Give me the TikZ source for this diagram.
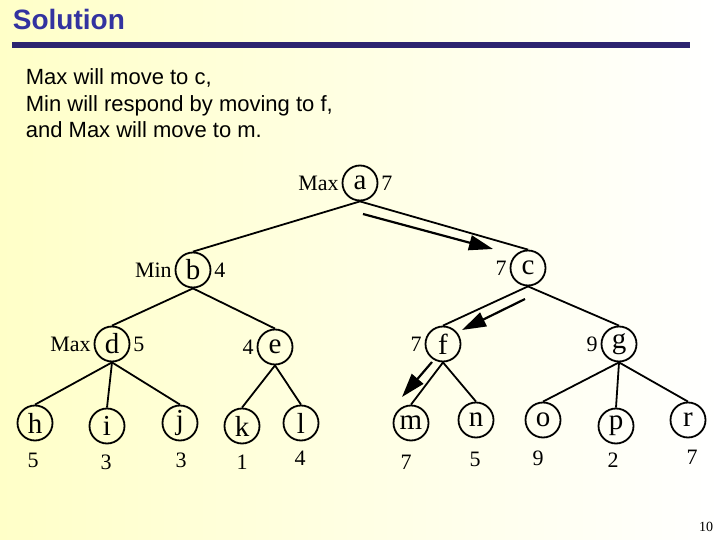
\documentclass[tikz,border=0pt]{standalone}
\usepackage{fontspec}
\setmainfont{Liberation Serif}
\newfontfamily\slidefont{Liberation Sans}
\usetikzlibrary{arrows.meta}
\definecolor{titleblue}{RGB}{51,51,160}
\definecolor{barblue}{RGB}{44,36,112}
\definecolor{paleyellow}{RGB}{255,255,200}

\begin{document}
\begin{tikzpicture}[x=1pt, y=-1pt, line width=1.8pt,
	state/.style={circle, draw, minimum size=35pt, inner sep=0pt, font=\fontsize{29}{29}\selectfont},
	val/.style={font=\fontsize{22}{22}\selectfont, inner sep=1pt},
	move/.style={line width=2.2pt, -{Triangle[length=24pt, width=15pt]}}]
	\shade[left color=paleyellow, right color=white] (0,0) rectangle (720,540);
	\useasboundingbox (0,0) rectangle (720,540);
	% heading
	\node[anchor=base west, inner sep=0pt, text=titleblue, font=\slidefont\bfseries\fontsize{28}{28}\selectfont] (title) at (12,30) {Solution};
	\fill[barblue] (12,42) rectangle (690,48);
	\node[anchor=north west, inner sep=0pt, align=left, font=\slidefont\fontsize{22}{26.5}\selectfont] (text) at (25,68) {Max will move to c,\\Min will respond by moving to f,\\and Max will move to m.};
	% tree
	\node[state] (a) at (360,183) {a};
	\node[state] (b) at (193,270) {b};
	\node[state] (c) at (528,268) {c};
	\node[state] (d) at (112,344) {d};
	\node[state] (e) at (275,347) {e};
	\node[state] (f) at (443,344) {f};
	\node[state] (g) at (619,344) {g};
	\foreach \n/\x/\y in {h/35/423, i/107/426, j/180/423, k/242/426, l/301/423, m/411/423, n/476/420, o/543/420, p/616/426, r/688/420}
		\node[state] (\n) at (\x,\y) {\n};
	\foreach \p/\q in {a/b, a/c, b/d, b/e, c/f, c/g, d/h, d/i, d/j, e/k, e/l, f/m, f/n, g/o, g/p, g/r}
		\draw (\p.south) -- (\q.north);
	% labels
	\node[val, left=1pt] (amax) at (a.west) {Max};
	\node[val, right=1pt] (aval) at (a.east) {7};
	\node[val, left=1pt] (bmin) at (b.west) {Min};
	\node[val, right=1pt] (bval) at (b.east) {4};
	\node[val, left=1pt] (cval) at (c.west) {7};
	\node[val, left=1pt] (dmax) at (d.west) {Max};
	\node[val, right=1pt] (dval) at (d.east) {5};
	\node[val, left=1pt] (eval) at (e.west) {4};
	\node[val, left=1pt] (fval) at (f.west) {7};
	\node[val, left=1pt] (gval) at (g.west) {9};
	\foreach \n/\x/\y/\v in {h/33/460/5, i/106/462/3, j/181/460/3, k/242/462/1, l/300/458/4, m/406/462/7, n/475/459/5, o/538/458/9, p/613/460/2, r/692/457/7}
		\node[val] (\n val) at (\x,\y) {\v};
	% chosen moves
	\coordinate (m1s) at (363,214);
	\coordinate (m1e) at (493,249);
	\coordinate (m2s) at (525,299);
	\coordinate (m2e) at (462,330);
	\coordinate (m3s) at (432,362);
	\coordinate (m3e) at (402,397);
	\draw[move] (m1s) -- (m1e);
	\draw[move] (m2s) -- (m2e);
	\draw[move] (m3s) -- (m3e);
	\node[font=\fontsize{14}{14}\selectfont] (page) at (706,527) {10};
\end{tikzpicture}
\end{document}
